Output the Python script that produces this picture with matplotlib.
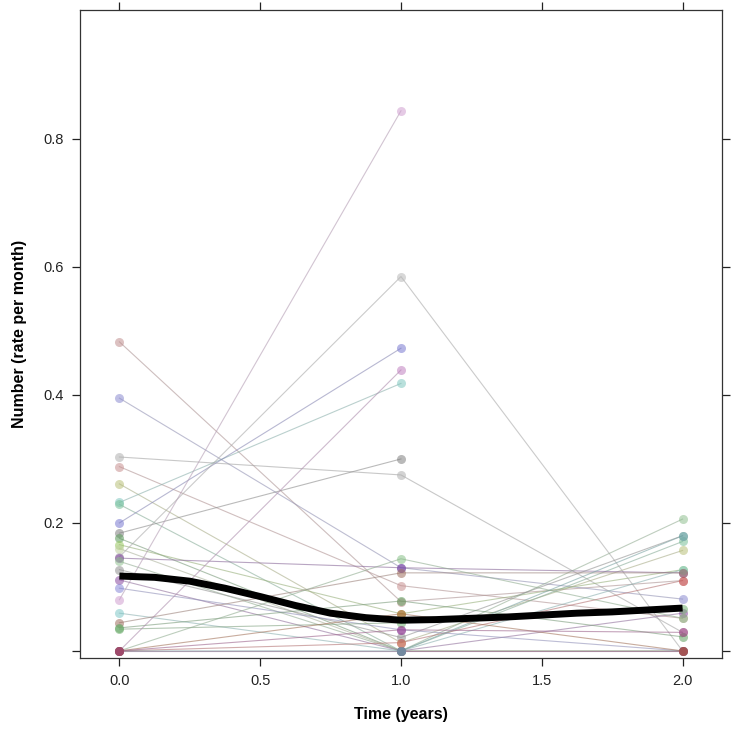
import numpy as np
import matplotlib
matplotlib.use("Agg")
import matplotlib.pyplot as plt
from matplotlib.colors import to_rgb

# measurement times (years)
times = [0.0, 1.0, 2.0]

# rate per month for each subject at the three visits (nan = missing)
nan = np.nan
visit0 = [0.483, 0.395, 0.303, 0.288, 0.261, 0.232, 0.229, 0.200, 0.184, 0.176,
          0.166, 0.160, 0.147, 0.145, 0.140, 0.127, 0.111, 0.098, 0.080, 0.059,
          0.044, 0.036, 0.034, 0.0, 0.0, 0.0, 0.0, 0.0, 0.0, 0.0]
visit1 = [0.077, 0.130, 0.275, 0.102, 0.013, 0.418, 0.0, 0.473, 0.300, 0.0,
          0.058, 0.0, 0.585, 0.130, 0.0, 0.021, 0.0, 0.033, 0.844, 0.0,
          0.122, 0.078, 0.044, 0.439, 0.144, 0.0, 0.013, 0.0, 0.058, 0.033]
visit2 = [0.110, 0.081, 0.029, 0.051, 0.157, nan, 0.171, nan, nan, 0.0,
          0.127, 0.0, 0.0, 0.122, 0.206, 0.180, 0.059, 0.0, nan, 0.127,
          0.122, 0.022, 0.066, nan, 0.051, 0.0, 0.110, 0.180, 0.0, 0.029]

subject_colors = ['#c08f8f', '#8c8cd0', '#b0b0b0', '#c89090', '#b8c078',
                  '#80c8c0', '#78c098', '#7878d0', '#808080', '#5a9a5a',
                  '#98c860', '#c0d0a0', '#b8b8b8', '#7a3a9a', '#90c090',
                  '#909090', '#8a4aa0', '#8888d8', '#d0a0d0', '#80c8c8',
                  '#a07060', '#60a060', '#70b070', '#c080c0', '#88c088',
                  '#902070', '#d05050', '#60b0b0', '#b05020', '#a03080']

# smoothed mean curve
smooth_x = [0.0, 0.125, 0.25, 0.375, 0.5, 0.625, 0.75, 0.875, 1.0, 1.125,
            1.25, 1.375, 1.5, 1.625, 1.75, 1.875, 2.0]
smooth_y = [0.117, 0.115, 0.109, 0.098, 0.085, 0.071, 0.059, 0.052, 0.048,
            0.049, 0.051, 0.053, 0.056, 0.059, 0.061, 0.064, 0.067]

x_ticks = [0.0, 0.5, 1.0, 1.5, 2.0]
x_labels = ["0.0", "0.5", "1.0", "1.5", "2.0"]
y_ticks = [0.0, 0.2, 0.4, 0.6, 0.8]
y_labels = ["", "0.2", "0.4", "0.6", "0.8"]

plt.rcParams['font.family'] = ['Liberation Sans', 'DejaVu Sans']

fig = plt.figure(figsize=(7.35, 7.31), dpi=100)
ax = fig.add_axes([0.1088, 0.0999, 0.8735, 0.8865])

# one line + points per subject
for i in range(len(visit0)):
    vals = np.array([visit0[i], visit1[i], visit2[i]], dtype=float)
    ok = ~np.isnan(vals)
    xs = np.array(times)[ok]
    ys = vals[ok]
    # lines are a greyed version of the subject colour
    line_col = 0.5 * np.array(to_rgb(subject_colors[i])) + 0.5 * np.array([0.6, 0.6, 0.6])
    ax.plot(xs, ys, color=line_col, lw=0.8, alpha=0.6, zorder=2)
    ax.plot(xs, ys, 'o', color=subject_colors[i], ms=6.5, mew=0,
            alpha=0.55, zorder=3)

# smooth
ax.plot(smooth_x, smooth_y, color='black', lw=5, solid_capstyle='butt',
        solid_joinstyle='round', zorder=4)

ax.set_xlim(-0.14, 2.14)
ax.set_ylim(-0.011, 1.0016)
ax.set_xticks(x_ticks)
ax.set_xticklabels(x_labels)
ax.set_yticks(y_ticks)
ax.set_yticklabels(y_labels)
ax.tick_params(direction='out', length=5.5, width=0.9, labelsize=10.5,
               top=True, right=True, colors='#222222', labelcolor='#222222',
               pad=6)
for s in ax.spines.values():
    s.set_linewidth(0.9)
    s.set_color('#333333')

ax.set_xlabel("Time (years)", fontsize=11.5, fontweight='bold', labelpad=14)
ax.set_ylabel("Number (rate per month)", fontsize=11.5, fontweight='bold',
              labelpad=12)

plt.savefig("out.png", dpi=100)
